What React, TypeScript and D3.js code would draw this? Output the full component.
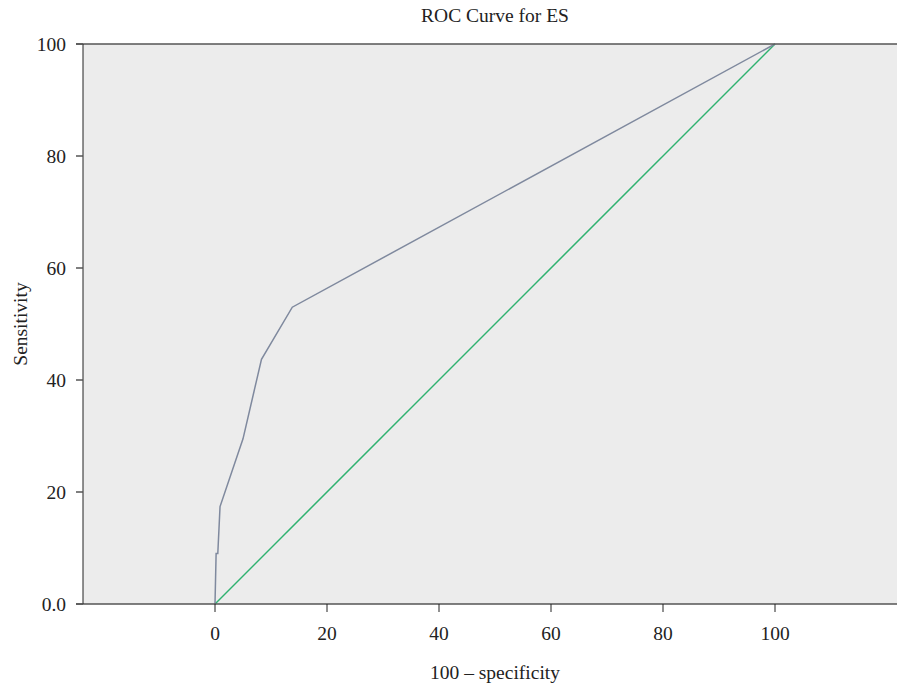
import React from "react";
import * as d3 from "d3";

const fpr = [0, 0.2, 0.5, 0.9, 5, 8.3, 13.8, 100];
const tpr = [0, 9, 9, 17.4, 29.5, 43.7, 53, 100];
const diagX = [0, 100];
const diagY = [0, 100];
const xTicks = [0, 20, 40, 60, 80, 100];
const yTicks = [0, 20, 40, 60, 80, 100];

const W = 897, H = 684;
const left = 83, right = 897, top = 44, bottom = 604;

export default function App() {
  const x = d3.scaleLinear().domain([0, 100]).range([215, 775]);
  const y = d3.scaleLinear().domain([0, 100]).range([bottom, top]);
  const line = d3.line<[number, number]>().x(d => x(d[0])).y(d => y(d[1]));
  const roc = line(fpr.map((v, i) => [v, tpr[i]] as [number, number]));
  const diag = line(diagX.map((v, i) => [v, diagY[i]] as [number, number]));
  const font = "'Liberation Serif', 'DejaVu Serif', serif";
  const fs = 19.5;
  return (
    <svg width={W} height={H} style={{ position: "absolute", left: 0, top: 0 }} fontFamily={font}>
      <rect x={0} y={0} width={W} height={H} fill="#fff" />
      <rect x={left} y={top} width={right - left} height={bottom - top} fill="#ececec" />
      <path d={diag!} fill="none" stroke="#2fb270" strokeWidth={1.5} />
      <path d={roc!} fill="none" stroke="#7f899e" strokeWidth={1.5} />
      <line x1={76} x2={right} y1={top} y2={top} stroke="#555" strokeWidth={1.5} />
      <line x1={76} x2={right} y1={bottom} y2={bottom} stroke="#555" strokeWidth={1.5} />
      <line x1={left} x2={left} y1={top} y2={bottom} stroke="#222" strokeWidth={1} />
      {yTicks.map(t => (
        <g key={"y" + t}>
          <line x1={76} x2={left} y1={y(t)} y2={y(t)} stroke="#555" strokeWidth={1.5} />
          <text x={66} y={y(t)} dy="0.35em" textAnchor="end" fontSize={fs} fill="#222">
            {t === 0 ? "0.0" : t}
          </text>
        </g>
      ))}
      {xTicks.map(t => (
        <g key={"x" + t}>
          <line x1={x(t)} x2={x(t)} y1={bottom} y2={612} stroke="#222" strokeWidth={1} />
          <text x={x(t)} y={633} dy="0.35em" textAnchor="middle" fontSize={fs} fill="#222">
            {t}
          </text>
        </g>
      ))}
      <text x={495} y={15} dy="0.35em" textAnchor="middle" fontSize={fs} fill="#222">ROC Curve for ES</text>
      <text x={495} y={672} dy="0.35em" textAnchor="middle" fontSize={fs} fill="#222">100 – specificity</text>
      <text transform={`translate(20,324) rotate(-90)`} dy="0.35em" textAnchor="middle" fontSize={fs} fill="#222">Sensitivity</text>
    </svg>
  );
}
